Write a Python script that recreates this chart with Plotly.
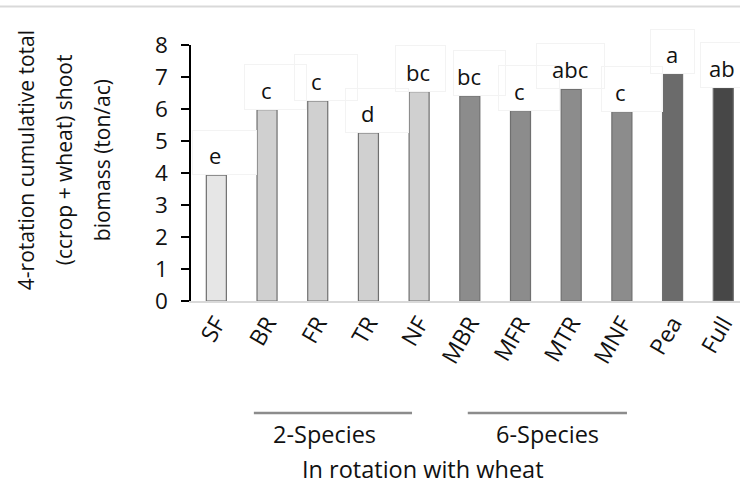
import plotly.graph_objects as go

# ---- data ----
categories = ["SF", "BR", "FR", "TR", "NF", "MBR", "MFR", "MTR", "MNF", "Pea", "Full"]
biomass = [3.93, 5.98, 6.25, 5.25, 6.54, 6.40, 5.95, 6.61, 5.92, 7.09, 6.67]
letters = ["e", "c", "c", "d", "bc", "bc", "c", "abc", "c", "a", "ab"]
y_ticks = [0, 1, 2, 3, 4, 5, 6, 7, 8]
group_names = ["2-Species", "6-Species"]
group_span = [(0.74, 3.86), (4.96, 8.10)]   # in category units
group_label_x = [2.14, 6.53]
y_title_lines = ["4-rotation cumulative total", "(ccrop + wheat) shoot", "biomass (ton/ac)"]
x_title = "In rotation with wheat"

# ---- styles ----
bar_colors = ["#e6e6e6"] + ["#d0d0d0"] * 4 + ["#8c8c8c"] * 4 + ["#6b6b6b", "#474747"]
box_w = [63, 61, 62, 62, 49, 51, 60, 67, 60, 43, 60]
box_dx = [8.5, 8.7, 8.7, 8.5, 1.5, 10, 8.7, -1, 10, 0, 8]
box_h = [43, 44, 45, 43, 45, 44, 44, 44, 44, 43, 44]
FONT = "Open Sans"
TXT = "#111111"

fig = go.Figure()
fig.add_trace(go.Bar(
    x=categories, y=biomass,
    marker=dict(color=bar_colors, line=dict(color="#6f6f6f", width=1.2)),
    hoverinfo="x+y",
))

ann = []
for c, v, lab, w, dx, h in zip(categories, biomass, letters, box_w, box_dx, box_h):
    ann.append(dict(x=c, y=v, xref="x", yref="y", text=" ", showarrow=False,
                    width=w, height=h, xshift=dx, yanchor="bottom",
                    bordercolor="#f3f3f3", borderwidth=1, borderpad=0))
    ann.append(dict(x=c, y=v, xref="x", yref="y", text=lab, showarrow=False,
                    yanchor="bottom", yshift=3, xshift=-1,
                    font=dict(family=FONT, size=22, color=TXT)))

# y title lines (rotated)
for i, line in enumerate(y_title_lines):
    ann.append(dict(x=0, y=0.55, xref="paper", yref="paper", text=line, showarrow=False,
                    textangle=-90, xanchor="center", yanchor="middle",
                    xshift=-165 + 38 * i,
                    font=dict(family=FONT, size=21, color=TXT)))

shapes = []
for name, (a, b), lx in zip(group_names, group_span, group_label_x):
    shapes.append(dict(type="line", xref="x", yref="paper", ysizemode="pixel", yanchor=0,
                       x0=a, x1=b, y0=-112, y1=-112,
                       line=dict(color="#8c8c8c", width=2.5)))
    ann.append(dict(x=lx, y=0, xref="x", yref="paper", text=name, showarrow=False,
                    yanchor="middle", yshift=-133,
                    font=dict(family=FONT, size=23.5, color=TXT)))

ann.append(dict(x=0.4226, y=0, xref="paper", yref="paper", text=x_title, showarrow=False,
                yanchor="middle", yshift=-168,
                font=dict(family=FONT, size=23.5, color=TXT)))

# top border line
shapes.append(dict(type="line", xref="paper", yref="paper", ysizemode="pixel", yanchor=1,
                   x0=-191 / 549, x1=1, y0=38.5, y1=38.5,
                   line=dict(color="#d9d9d9", width=2)))

fig.update_layout(
    width=740, height=486,
    margin=dict(l=191, r=0, t=45, b=185),
    paper_bgcolor="white", plot_bgcolor="white",
    showlegend=False,
    bargap=0.605,
    font=dict(family=FONT, size=20, color=TXT),
    annotations=ann, shapes=shapes,
    xaxis=dict(range=[-0.5, 10.33], showline=True, linecolor="#d9d9d9", linewidth=1.5,
               ticks="", tickangle=-60, showgrid=False, ticklabelstandoff=-2,
               tickfont=dict(family=FONT, size=23, color=TXT)),
    yaxis=dict(range=[0, 8], tickvals=y_ticks, showline=True, linecolor="black", linewidth=1.5,
               ticks="outside", ticklen=8, tickwidth=1.5, tickcolor="black",
               showgrid=False, zeroline=False, ticklabelstandoff=9,
               tickfont=dict(family=FONT, size=22.5, color=TXT)),
)

fig.write_html("out.html")
